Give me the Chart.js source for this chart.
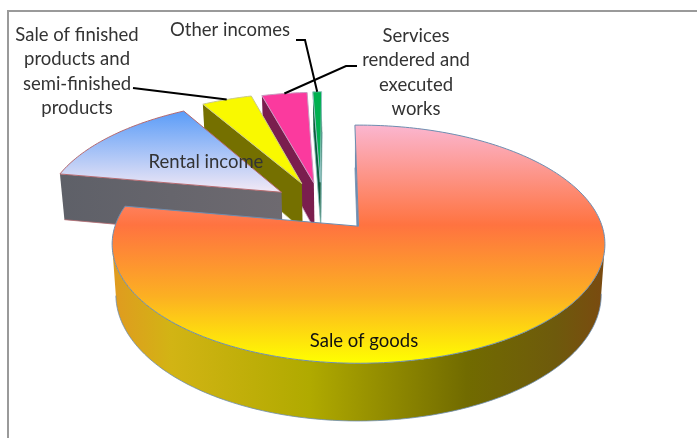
<!DOCTYPE html>
<html>
<head>
<meta charset="utf-8">
<script src="https://cdn.jsdelivr.net/npm/chart.js@4"></script>
<style>html,body{margin:0;padding:0;background:#fff}#w{width:697px;height:438px;position:relative}</style>
</head>
<body>
<div id="w"><canvas id="c"></canvas></div>
<script>
const categories = ['Sale of goods','Rental income','Sale of finished products and semi-finished products','Services rendered and executed works','Other incomes'];
const shares = [78.1,13.6,4.0,3.6,0.7];
const explode = [47.6,41,43,41,42];
const topFills = [
  [[0,'#fbb6d0'],[0.42,'#ff7340'],[0.72,'#fcb022'],[1,'#ffff00']],
  [[0,'#5a9cf8'],[1,'#f3e9f5']],
  [[0,'#f9f900'],[1,'#f9f900']],
  [[0,'#fb3a9e'],[1,'#fb3a9e']],
  [[0,'#00b050'],[1,'#00b050']]
];
const sideFills = [
  [[0,'#e09a20'],[0.12,'#d2b414'],[0.4,'#b0aa00'],[0.72,'#716b00'],[0.9,'#6e5a0c'],[1,'#7a4a10']],
  [[0,'#5e6068'],[1,'#6e6a70']],
  [[0,'#757000'],[1,'#757000']],
  [[0,'#7a1e4e'],[1,'#7a1e4e']],
  [[0,'#0a5a3a'],[1,'#0a5a3a']]
];
const edgeColors = ['#6d8db0','#b56a70','#c9c98a','#c99ac0','#8fc0c0'];
const drawOrder = [4,3,2,1,0];

// perspective camera for the pie plane
const cam = {x0:359,y0:226,a:243.5,b:116.3,p:0.151,h:49,shrink:0.985,cu:-0.16,cv:-0.184};
function project(u,v,low){
  const w = 1-cam.p*(v+cam.cv), k = low?cam.shrink:1;
  return {x:cam.x0+cam.a*(u+cam.cu)*k/w, y:cam.y0+cam.b*(v+cam.cv)/w+(low?cam.h/w:0)};
}
function outline(arc){
  const {startAngle:s,endAngle:e,outerRadius:R}=arc;
  const mid=(s+e)/2, off=arc.options.offset/R, ou=off*Math.cos(mid), ov=off*Math.sin(mid);
  const pts=[[ou,ov]], n=Math.max(3,Math.ceil((e-s)/0.02));
  for(let i=0;i<=n;i++){const a=s+(e-s)*i/n;pts.push([ou+Math.cos(a),ov+Math.sin(a)]);}
  return pts;
}
function grad(ctx,stops,x0,y0,x1,y1){
  const g=ctx.createLinearGradient(x0,y0,x1,y1);
  stops.forEach(s=>g.addColorStop(s[0],s[1]));
  return g;
}
function tip(arc){
  const {startAngle:s,endAngle:e,outerRadius:R}=arc;
  const mid=(s+e)/2, off=arc.options.offset/R;
  return project((off+1)*Math.cos(mid),(off+1)*Math.sin(mid),false);
}
const labelFont='18.5px Lato, "Open Sans", sans-serif';
const textLabels=[
  {lines:['Sale of goods'],x:364,y:341,color:'#111'},
  {lines:['Rental income'],x:206,y:162,color:'#333'},
  {lines:['Sale of finished','products and','semi-finished','products'],x:77,y:35,color:'#333'},
  {lines:['Services','rendered and','executed','works'],x:416,y:36,color:'#333'},
  {lines:['Other incomes'],x:230,y:30,color:'#333'}
];
const leaders={2:[[133,88]],3:[[357,66],[346,66]],4:[[296,40],[305,40]]};

const pie3d={
  id:'pie3d',
  beforeDatasetDraw(){return false;},
  afterDatasetsDraw(chart){
    const ctx=chart.ctx, arcs=chart.getDatasetMeta(0).data;
    ctx.save();
    // frame
    ctx.strokeStyle='#9a9a9a';ctx.lineWidth=2;
    ctx.beginPath();ctx.moveTo(8,438);ctx.lineTo(8,11);ctx.lineTo(697,11);ctx.stroke();
    drawOrder.forEach(i=>{
      const pts=outline(arcs[i]);
      const up=pts.map(p=>project(p[0],p[1],false)), lo=pts.map(p=>project(p[0],p[1],true));
      const xs=up.map(p=>p.x).concat(lo.map(p=>p.x)), ys=up.map(p=>p.y);
      const minX=Math.min(...xs),maxX=Math.max(...xs),minY=Math.min(...ys),maxY=Math.max(...ys);
      const m=up.length;
      // contiguous visible runs of the wall
      const runs=[];let cur=null;
      for(let j=0;j<m;j++){
        const q=(j+1)%m;
        if(up[q].x<up[j].x){ if(!cur){cur=[j];runs.push(cur);} cur.push(q); }
        else cur=null;
      }
      const side=grad(ctx,sideFills[i],minX,0,maxX,0);
      runs.forEach(r=>{
        // the sliver inside the notch of the big slice reads as an edge, not as a wall
        ctx.fillStyle=(i===0&&r.length===2)?edgeColors[i]:side;
        ctx.beginPath();
        r.forEach((j,n)=>n?ctx.lineTo(up[j].x,up[j].y):ctx.moveTo(up[j].x,up[j].y));
        r.slice().reverse().forEach(j=>ctx.lineTo(lo[j].x,lo[j].y));
        ctx.closePath();ctx.fill();
        ctx.strokeStyle=edgeColors[i];ctx.lineWidth=0.8;
        ctx.beginPath();
        r.forEach((j,n)=>n?ctx.lineTo(lo[j].x,lo[j].y):ctx.moveTo(lo[j].x,lo[j].y));
        ctx.stroke();
      });
      // top face
      ctx.fillStyle=grad(ctx,topFills[i],0,minY,0,maxY);
      ctx.beginPath();up.forEach((p,j)=>j?ctx.lineTo(p.x,p.y):ctx.moveTo(p.x,p.y));ctx.closePath();
      ctx.fill();
      ctx.strokeStyle=edgeColors[i];ctx.lineWidth=1;ctx.stroke();
    });
    // leader lines
    ctx.strokeStyle='#000';ctx.lineWidth=2;
    Object.keys(leaders).forEach(k=>{
      const t=tip(arcs[k]);
      ctx.beginPath();
      leaders[k].forEach((p,j)=>j?ctx.lineTo(p[0],p[1]):ctx.moveTo(p[0],p[1]));
      ctx.lineTo(t.x,t.y);ctx.stroke();
    });
    // labels
    ctx.font=labelFont;ctx.textAlign='center';ctx.textBaseline='middle';
    textLabels.forEach(l=>{
      ctx.fillStyle=l.color;
      l.lines.forEach((s,j)=>ctx.fillText(s,l.x,l.y+j*24.5));
    });
    ctx.restore();
  }
};

new Chart(document.getElementById('c'),{
  type:'pie',
  data:{labels:categories,datasets:[{data:shares,offset:explode,borderWidth:0,backgroundColor:topFills.map(t=>t[0][1])}]},
  options:{
    responsive:true,maintainAspectRatio:false,animation:false,rotation:-1,
    layout:{padding:0},
    events:[],
    plugins:{legend:{display:false},tooltip:{enabled:false},title:{display:false}}
  },
  plugins:[pie3d]
});
</script>
</body>
</html>
